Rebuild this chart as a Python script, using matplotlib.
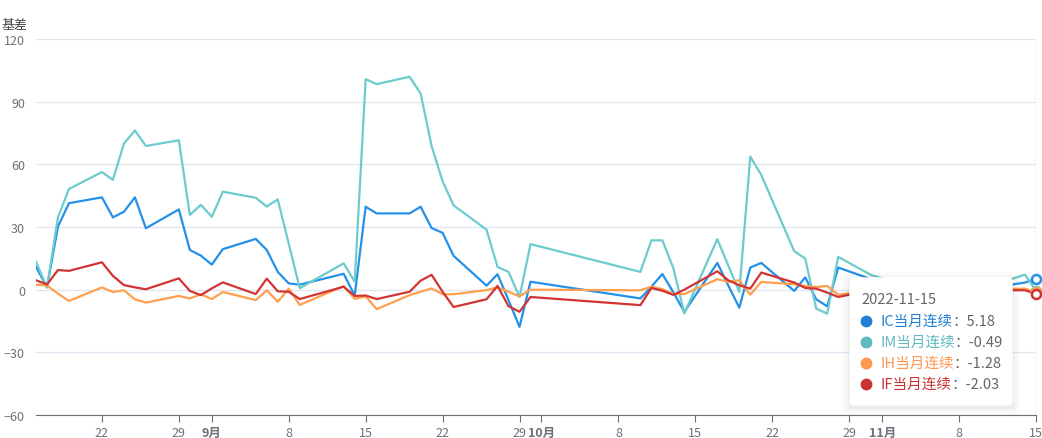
import matplotlib.pyplot as plt
import pandas as pd
from matplotlib.patches import FancyBboxPatch

plt.rcParams['font.family'] = ['Noto Sans CJK SC', 'DejaVu Sans']

# =========================
# Data (basis of index futures, front month)
# =========================

W, H = 1042, 439

trade_dates = [
    "2022-08-16", "2022-08-17", "2022-08-18", "2022-08-19", "2022-08-22", "2022-08-23",
    "2022-08-24", "2022-08-25", "2022-08-26", "2022-08-29", "2022-08-30", "2022-08-31",
    "2022-09-01", "2022-09-02", "2022-09-05", "2022-09-06", "2022-09-07", "2022-09-08",
    "2022-09-09", "2022-09-13", "2022-09-14", "2022-09-15", "2022-09-16", "2022-09-19",
    "2022-09-20", "2022-09-21", "2022-09-22", "2022-09-23", "2022-09-26", "2022-09-27",
    "2022-09-28", "2022-09-29", "2022-09-30",
    "2022-10-10", "2022-10-11", "2022-10-12", "2022-10-13", "2022-10-14", "2022-10-17",
    "2022-10-18", "2022-10-19", "2022-10-20", "2022-10-21", "2022-10-24", "2022-10-25",
    "2022-10-26", "2022-10-27", "2022-10-28", "2022-10-31",
    "2022-11-01", "2022-11-02", "2022-11-03", "2022-11-04", "2022-11-07", "2022-11-08",
    "2022-11-09", "2022-11-10", "2022-11-11", "2022-11-14", "2022-11-15",
]

ic_basis = [
    10.9, 1.2, 30.2, 41.4, 44.2, 34.6, 37.3, 44.2, 29.4, 38.4, 19.0, 16.3,
    12.0, 19.4, 24.3, 19.0, 8.5, 3.0, 2.4, 7.6, -2.8, 39.7, 36.5, 36.5, 39.7, 29.5,
    27.2, 16.2, 1.9, 7.4, -5.0, -17.8, 3.8,
    -4.2, 1.4, 7.5, -1.3, -10.6, 12.8, 2.0, -8.6, 10.6, 12.8, -0.6, 5.9, -4.6,
    -8.0, 10.6, 5.0,
    4.2, 3.5, 2.8, 1.6, 2.5, 3.1, 2.0, 1.2, 1.0, 3.4, 5.18,
]

im_basis = [
    13.4, 1.0, 34.7, 48.2, 56.3, 52.6, 69.9, 76.2, 68.8, 71.5, 35.8, 40.6,
    34.9, 46.9, 44.0, 39.8, 43.2, 22.0, 0.7, 12.6, 3.8, 100.8, 98.4, 101.9, 93.9, 68.8,
    51.9, 40.4, 28.7, 10.9, 8.5, -3.5, 21.8,
    8.5, 23.6, 23.6, 10.3, -11.4, 24.2, 11.5, -1.1, 63.7, 54.9, 18.4, 14.9, -9.1,
    -11.5, 15.7, 7.0,
    5.5, 4.0, 3.0, 2.0, 3.5, 4.0, 3.0, 2.5, 2.0, 7.2, -0.49,
]

ih_basis = [
    2.4, 2.0, -1.9, -5.4, 1.1, -1.1, -0.3, -4.6, -6.2, -3.0, -4.2, -2.2,
    -4.5, -1.1, -5.0, -0.3, -5.8, 0.5, -7.3, 1.7, -4.4, -3.2, -9.3, -2.6, -1.0, 0.6,
    -2.2, -2.2, -0.2, 1.1, -1.0, -3.2, 0.0,
    -0.3, 1.4, 0.3, -2.1, -2.1, 5.0, 3.7, 4.5, -2.4, 3.7, 2.6, 1.8, 1.3,
    1.8, -2.4, -0.3,
    0.0, 0.5, 0.3, 0.2, 0.6, 0.8, 0.4, 0.3, 0.2, 0.5, -1.28,
]

if_basis = [
    4.5, 2.5, 9.4, 9.0, 13.1, 6.6, 2.2, 1.1, 0.2, 5.4, -0.6, -2.6,
    0.6, 3.5, -2.1, 5.3, -0.8, -1.0, -4.5, 1.4, -3.0, -2.8, -4.5, -1.0, 4.3, 7.1,
    -1.0, -8.3, -4.6, 1.8, -7.9, -10.6, -3.5,
    -7.4, 0.8, -0.5, -2.5, 0.0, 8.8, 4.5, 2.1, 0.5, 8.2, 3.4, 0.8, 0.5,
    -1.4, -3.5, -0.3,
    0.5, 1.0, 0.2, -0.5, 0.3, 0.8, 0.0, -0.4, -0.2, -0.3, -2.03,
]

series_names = ["IC当月连续", "IM当月连续", "IH当月连续", "IF当月连续"]
series_values = [ic_basis, im_basis, ih_basis, if_basis]
series_colors = ["#2590e8", "#6ccbcc", "#ffa04f", "#d23434"]
tooltip_colors = ["#1f80d4", "#5fb9be", "#ff974f", "#c83232"]

x_ticks = [
    "2022-08-22", "2022-08-29", "2022-09-01", "2022-09-08", "2022-09-15", "2022-09-22",
    "2022-09-29", "2022-10-01", "2022-10-08", "2022-10-15", "2022-10-22", "2022-10-29",
    "2022-11-01", "2022-11-08", "2022-11-15",
]
x_tick_labels = [
    "22", "29", "9月", "8", "15", "22", "29", "10月", "8", "15", "22", "29", "11月", "8", "15",
]
y_ticks = [-60, -30, 0, 30, 60, 90, 120]

# =========================
# Chart
# =========================

dates = pd.to_datetime(trade_dates)

fig = plt.figure(figsize=(W / 100, H / 100), dpi=100)
ax = fig.add_axes([36 / W, 23 / H, 1000 / W, 376 / H])

for name, values, color in zip(series_names, series_values, series_colors):
    ax.plot(dates, values, color=color, lw=1.6, zorder=3)

# axis pointer at hovered date
ax.axvline(dates[-1], color="#b0b4bc", lw=0.9, ls=(0, (4, 3)), zorder=2)
for values, color in zip(series_values, series_colors):
    ax.plot(dates[-1], values[-1], "o", mfc="white", mec=color, ms=6.5, mew=1.8,
            zorder=5, clip_on=False)

ax.set_xlim(dates[0], dates[-1])
ax.set_ylim(-60, 120)
ax.set_yticks(y_ticks)
ax.set_xticks(pd.to_datetime(x_ticks))
ax.set_xticklabels(x_tick_labels)
for label in ax.get_xticklabels():
    if "月" in label.get_text():
        label.set_fontweight("bold")
        label.set_color("#4a4a4a")

for side in ["top", "right", "left"]:
    ax.spines[side].set_visible(False)
ax.spines["bottom"].set_color("#6E7079")
ax.tick_params(axis="x", length=5, color="#6E7079", labelcolor="#6E7079",
               labelsize=9, pad=3)
ax.tick_params(axis="y", length=0, labelcolor="#6E7079", labelsize=9, pad=8)
ax.grid(axis="y", color="#E0E6F1", lw=1)
ax.set_axisbelow(True)

fig.text(1 / W, 1 - 25 / H, "基差", color="#444444", fontsize=9.3, ha="left", va="center")

# =========================
# Tooltip overlay (pixel coordinates)
# =========================

overlay = fig.add_axes([0, 0, 1, 1], zorder=10)
overlay.set_xlim(0, W)
overlay.set_ylim(H, 0)
overlay.axis("off")
overlay.patch.set_alpha(0)

box_x, box_y, box_w, box_h = 850, 279, 162, 127
for grow, alpha in [(8, 0.015), (5, 0.025), (2, 0.04)]:
    overlay.add_patch(FancyBboxPatch(
        (box_x + 4 - grow, box_y + 6 - grow), box_w - 8 + 2 * grow, box_h - 8 + 2 * grow,
        boxstyle="round,pad=4", fc="black", ec="none", alpha=alpha))
overlay.add_patch(FancyBboxPatch(
    (box_x + 4, box_y + 4), box_w - 8, box_h - 8,
    boxstyle="round,pad=4", fc="white", ec="white", lw=1))

overlay.text(861, 300, trade_dates[-1], color="#666666", fontsize=10.5, va="center")
row_y = [322, 343, 364, 385]
for name, values, color, y in zip(series_names, series_values, tooltip_colors, row_y):
    overlay.plot(866, y, "o", ms=7.5, color=color)
    name_text = overlay.text(880, y, name, color=color, fontsize=10.5, va="center")
    overlay.annotate(f"：{values[-1]:.2f}", xy=(1, 0.5), xycoords=name_text,
                     va="center", ha="left", color="#666666", fontsize=10.5)

fig.savefig("out.png", dpi=100)
